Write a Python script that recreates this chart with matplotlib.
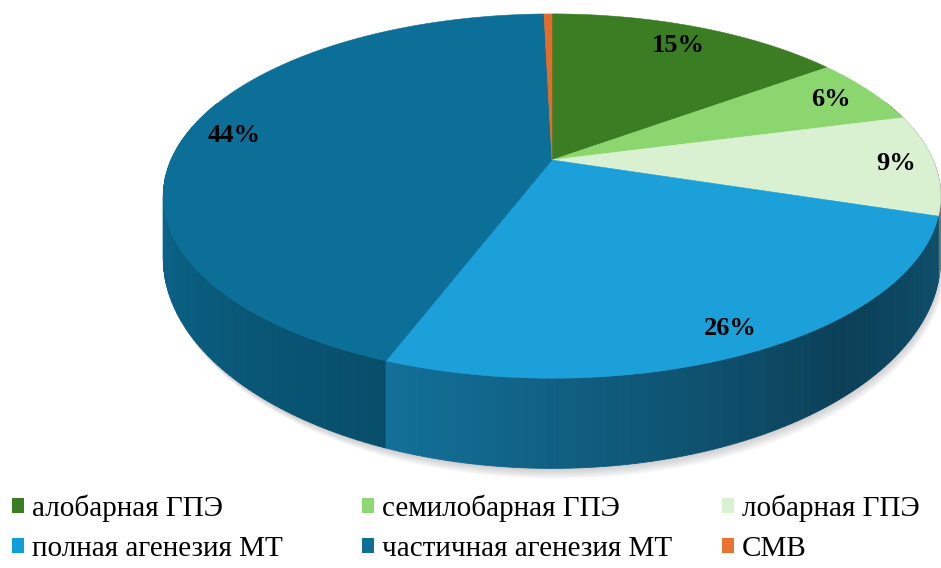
import numpy as np
import matplotlib.pyplot as plt
from matplotlib.patches import Patch

plt.rcParams['font.family'] = ['Liberation Serif', 'DejaVu Serif']

# данные
categories = ['алобарная ГПЭ', 'семилобарная ГПЭ', 'лобарная ГПЭ',
              'полная агенезия МТ', 'частичная агенезия МТ', 'СМВ']
values = [15, 6, 9, 26, 44, 0.4]
top_colors = ['#3A7D22', '#8CD66F', '#D9F1D0', '#1BA0DA', '#0B6F98', '#E46C2A']
legend_colors = ['#3B7D23', '#8ED973', '#D9F2D0', '#0F9ED5', '#0E6F98', '#E97132']
label_r = [0.84, 0.87, 0.9, 0.9, 0.87, 0.8]

# геометрия "3D" круга (в пикселях)
CX, CY = 552, 160
RX, RY = 381, 175
K = 0.198
DEPTH = 58


def proj(theta, r=1.0, drop=0.0):
    t = np.radians(theta)
    X = r * np.sin(t)
    Y = -r * np.cos(t)
    w = 1 - K * Y
    return CX + RX * X / w, CY + RY * Y / w + drop / w**2


def shade(theta):
    th = np.mod(theta, 360)
    return np.interp(th, [0, 90, 140, 200, 270, 360], [0.3, 0.45, 0.6, 0.3, 0.05, 0.3])


def darker(c, s):
    rgb = np.array(plt.matplotlib.colors.to_rgb(c))
    return tuple(rgb * (1 - s))


def lighter(c, s):
    rgb = np.array(plt.matplotlib.colors.to_rgb(c))
    return tuple(rgb + (1 - rgb) * s)


vals = np.array(values, float)
edges = np.concatenate([[0], np.cumsum(vals / vals.sum())]) * 360

fig = plt.figure(figsize=(9.41, 5.68), dpi=100)
ax = fig.add_axes([0, 0, 1, 1])
ax.set_xlim(0, 941)
ax.set_ylim(568, 0)
ax.axis('off')

# тень
arc = np.linspace(60, 300, 200)
for i in range(8):
    sx, sy = proj(arc, 1.0, DEPTH + 1 + i * 0.8)
    tx, ty = proj(arc[::-1], 0.7)
    ax.fill(np.r_[sx + i * 0.7, tx], np.r_[sy, ty], color='grey', alpha=0.05, lw=0, zorder=1)

# боковые грани
quads = []
for i in range(len(vals)):
    a0, a1 = edges[i], edges[i + 1]
    n = max(2, int((a1 - a0) / 1.0) + 1)
    th = np.linspace(a0, a1, n)
    for j in range(n - 1):
        tm = 0.5 * (th[j] + th[j + 1])
        if np.cos(np.radians(tm)) > 0.35:
            continue
        x0, y0 = proj(th[j])
        x1, y1 = proj(th[j + 1])
        x2, y2 = proj(th[j + 1], 1.0, DEPTH)
        x3, y3 = proj(th[j], 1.0, DEPTH)
        col = darker(top_colors[i], shade(tm))
        quads.append((-np.cos(np.radians(tm)), [x0, x1, x2, x3], [y0, y1, y2, y3], col))
quads.sort(key=lambda q: q[0])
for _, xs, ys, col in quads:
    ax.fill(xs, ys, color=col, ec=col, lw=0.6, zorder=2)

# верхняя грань (слегка светлее у дальнего края)
for i in range(len(vals)):
    th = np.linspace(edges[i], edges[i + 1], max(3, int(edges[i + 1] - edges[i]) + 2))
    ax_, ay_ = proj(th)
    ax.fill(np.r_[CX, ax_], np.r_[CY, ay_], color=top_colors[i], ec=top_colors[i],
            lw=0.4, zorder=3)

# подписи
for i in range(len(vals)):
    if vals[i] < 1:
        continue
    mid = 0.5 * (edges[i] + edges[i + 1])
    lx, ly = proj(mid, label_r[i])
    ax.text(lx, ly, '%d%%' % round(vals[i]), ha='center', va='center',
            fontsize=19, fontweight='bold', color='black', zorder=5)

# легенда: три колонки по две строки
handles = [Patch(facecolor=c, edgecolor='none') for c in legend_colors]
col_x = [12, 362, 722]
for j in range(3):
    fig.legend(handles=[handles[j], handles[j + 3]], labels=[categories[j], categories[j + 3]],
               loc='upper left', bbox_to_anchor=(col_x[j] / 941, 1 - 494 / 568),
               frameon=False, fontsize=21, handlelength=0.42, handleheight=0.42,
               handletextpad=0.25, labelspacing=0.5, borderpad=0, borderaxespad=0)

fig.savefig('out.png', dpi=100)
